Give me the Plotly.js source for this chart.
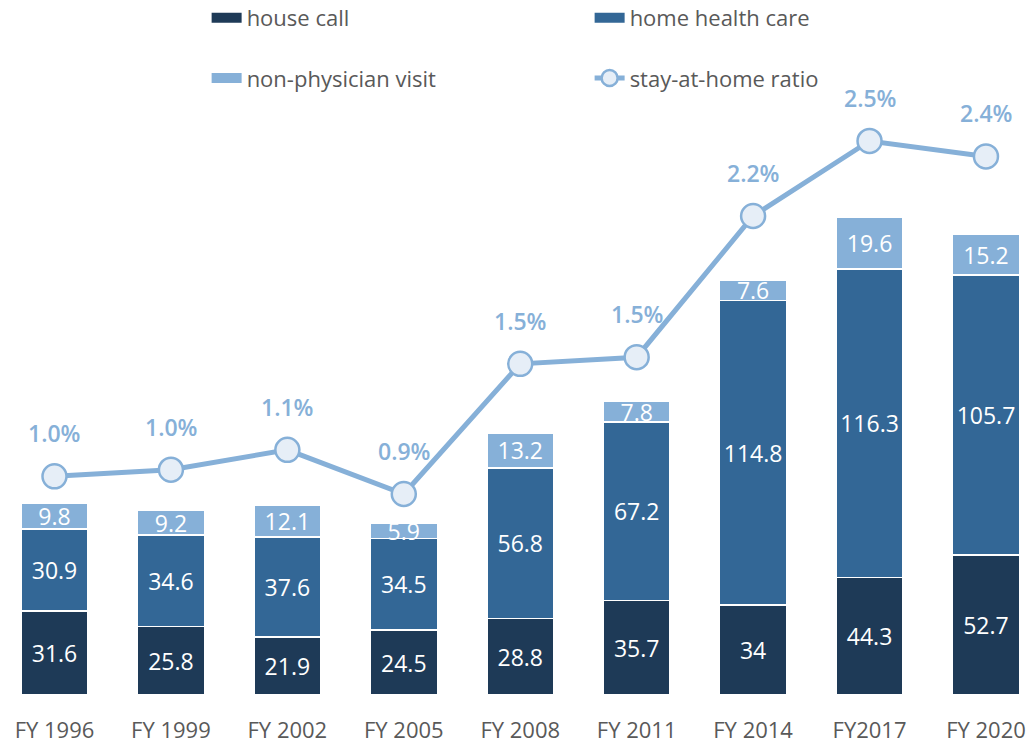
<!DOCTYPE html>
<html>
<head>
<meta charset="utf-8">
<script src="https://cdn.plot.ly/plotly-3.0.1.min.js"></script>
<style>html,body{margin:0;padding:0;background:#fff;}#chart{width:1028px;height:744px;}</style>
</head>
<body>
<div id="chart"></div>
<script>
const categories = ["FY 1996","FY 1999","FY 2002","FY 2005","FY 2008","FY 2011","FY 2014","FY2017","FY 2020"];
const houseCall = [31.6, 25.8, 21.9, 24.5, 28.8, 35.7, 34, 44.3, 52.7];
const homeHealthCare = [30.9, 34.6, 37.6, 34.5, 56.8, 67.2, 114.8, 116.3, 105.7];
const nonPhysicianVisit = [9.8, 9.2, 12.1, 5.9, 13.2, 7.8, 7.6, 19.6, 15.2];
const stayAtHomeRatio = [0.98, 1.01, 1.10, 0.90, 1.49, 1.52, 2.16, 2.50, 2.43];
const seriesNames = ["house call", "home health care", "non-physician visit", "stay-at-home ratio"];

const C_DARK = "#1e3a57", C_MID = "#336796", C_LIGHT = "#86b0d8", C_LINE = "#86b0d8", C_FILL = "#e6eef7";
const FONT = "Open Sans, Noto Sans, sans-serif";

function barTrace(vals, name, color) {
  return {
    type: "bar", x: categories, y: vals, name: name,
    marker: {color: color, line: {color: "#ffffff", width: 1.5}},
    text: vals.map(v => String(v)), textposition: "inside", insidetextanchor: "middle",
    textangle: 0, constraintext: "none",
    textfont: {color: "#ffffff", size: 23, family: FONT},
    hoverinfo: "x+y+name", showlegend: false, cliponaxis: false
  };
}
function legendSwatch(name, color, legend, rank) {
  return {type: "scatter", mode: "lines", x: [categories[0]], y: [null], name: name,
    line: {color: color, width: 11}, legend: legend, legendrank: rank, hoverinfo: "skip"};
}

const traces = [
  barTrace(houseCall, seriesNames[0], C_DARK),
  barTrace(homeHealthCare, seriesNames[1], C_MID),
  barTrace(nonPhysicianVisit, seriesNames[2], C_LIGHT),
  {
    type: "scatter", mode: "lines+markers", x: categories, y: stayAtHomeRatio, yaxis: "y2",
    name: seriesNames[3], legend: "legend2", legendrank: 2,
    line: {color: C_LINE, width: 5},
    marker: {size: 24, color: C_FILL, line: {color: C_LINE, width: 2.5}},
    cliponaxis: false
  },
  legendSwatch(seriesNames[0], C_DARK, "legend", 1),
  legendSwatch(seriesNames[1], C_MID, "legend", 2),
  legendSwatch(seriesNames[2], C_LIGHT, "legend2", 1)
];

const annotations = categories.map((c, i) => ({
  x: c, y: stayAtHomeRatio[i], xref: "x", yref: "y2",
  text: stayAtHomeRatio[i].toFixed(1) + "%", showarrow: false, yshift: 43,
  font: {color: C_LINE, size: 23, family: FONT, weight: 600}
}));

const legendCommon = {
  orientation: "h", xanchor: "left", yanchor: "middle", traceorder: "normal",
  xref: "container", yref: "container",
  font: {size: 22, color: "#595959", family: FONT},
  entrywidth: 338, entrywidthmode: "pixels", bgcolor: "rgba(0,0,0,0)",
  itemclick: false, itemdoubleclick: false
};

const layout = {
  width: 1028, height: 744,
  margin: {l: 0, r: 0, t: 0, b: 49, autoexpand: false},
  paper_bgcolor: "#ffffff", plot_bgcolor: "#ffffff",
  barmode: "stack", bargap: 0.425,
  font: {family: FONT},
  xaxis: {type: "category", autorange: false, range: [-0.468, 8.361], showgrid: false, zeroline: false, showline: false,
    ticks: "", tickfont: {size: 22, color: "#595959", family: FONT}, ticklabelstandoff: 20},
  yaxis: {autorange: false, range: [0, 262], visible: false, showgrid: false, zeroline: false},
  yaxis2: {overlaying: "y", autorange: false, range: [-0.011, 3.139], visible: false, showgrid: false, zeroline: false},
  showlegend: true,
  legend: Object.assign({}, legendCommon, {x: 0.201, y: 0.976}),
  legend2: Object.assign({}, legendCommon, {x: 0.201, y: 0.895}),
  annotations: annotations
};

Plotly.newPlot("chart", traces, layout, {displayModeBar: false, responsive: false});
</script>
</body>
</html>
